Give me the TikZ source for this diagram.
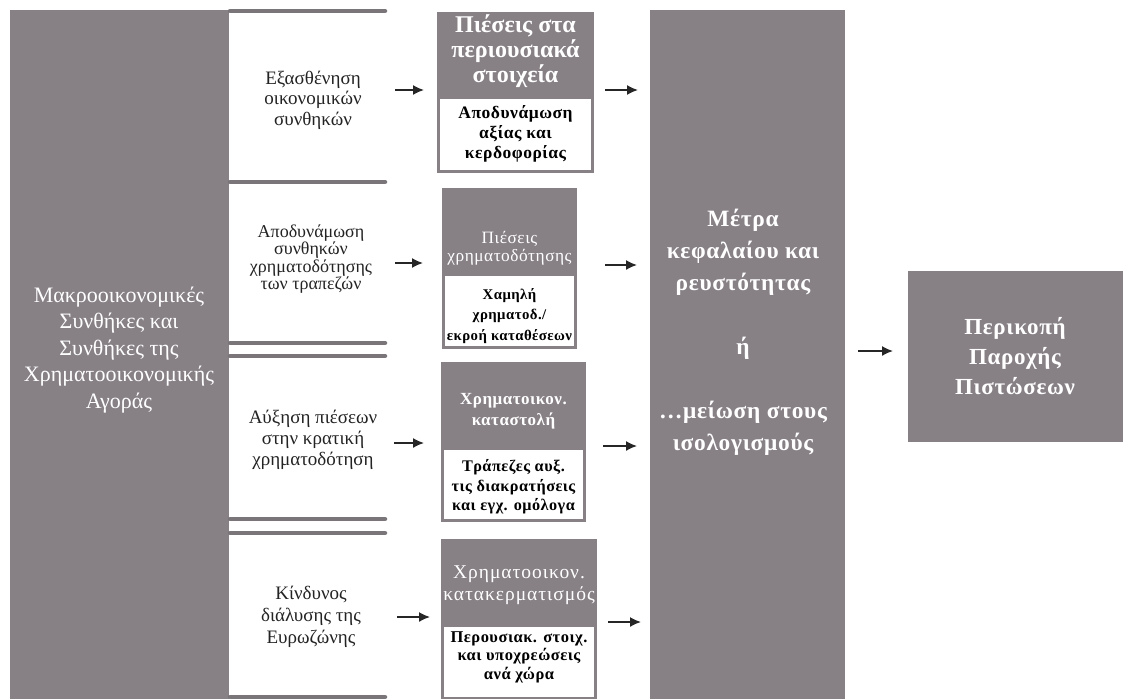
\documentclass[tikz,border=0pt]{standalone}
\usepackage{fontspec}
\setmainfont{Liberation Serif}
\newfontfamily\spaced[LetterSpace=3]{Liberation Serif}
\newfontfamily\spacedw[LetterSpace=5]{Liberation Serif}
\usetikzlibrary{arrows.meta}
\definecolor{boxgray}{RGB}{135,129,134}
\definecolor{linegray}{RGB}{122,117,121}
\definecolor{txtdark}{RGB}{35,35,35}
\begin{document}
\begin{tikzpicture}[x=1pt,y=-1pt,
  graybox/.style={fill=boxgray,draw=none,inner sep=0,outer sep=0,anchor=north west},
  whitebox/.style={fill=white,draw=boxgray,line width=3pt,inner sep=0,outer sep=0,anchor=north},
  lbl/.style={align=center,inner sep=0,text=txtdark},
  wlbl/.style={align=center,inner sep=0,text=white},
  blbl/.style={align=center,inner sep=0,text=black},
  arr/.style={-{Latex[length=11pt,width=10pt]},line width=1.6pt,draw=black!85},
  sepline/.style={draw=linegray,line width=4.5pt,line cap=round}]
\useasboundingbox (0,0) rectangle (1123,698);
% left big box
\node[graybox,minimum width=219,minimum height=690] (macro) at (10,10) {};
\node[wlbl,font=\fontsize{22}{26.5}\selectfont] (macrot) at (119,350)
  {Μακροοικονομικές\\Συνθήκες και\\Συνθήκες της\\Χρηματοοικονομικής\\Αγοράς};
% separator lines
\foreach \yy in {11,182,343,356,519,533,697}
  \draw[sepline] (230,\yy) -- (385,\yy);
% row labels
\node[lbl,font=\fontsize{19}{20.5}\selectfont] (r1) at (313,100) {Εξασθένηση\\οικονομικών\\συνθηκών};
\node[lbl,font=\fontsize{18}{17.5}\selectfont] (r2) at (311,259) {Αποδυνάμωση\\συνθηκών\\χρηματοδότησης\\των τραπεζών};
\node[lbl,font=\fontsize{19}{21}\selectfont] (r3) at (313,440) {Αύξηση πιέσεων\\στην κρατική\\χρηματοδότηση};
\node[lbl,font=\fontsize{19}{22}\selectfont] (r4) at (311,617) {Κίνδυνος\\διάλυσης της\\Ευρωζώνης};
% middle boxes
\node[graybox,minimum width=157,minimum height=86] (h1) at (437,12) {};
\node[whitebox,minimum width=154,minimum height=73] (w1) at (h1.south) {};
\node[wlbl,font=\bfseries\fontsize{24}{25}\selectfont] (h1t) at (515.5,51.5) {Πιέσεις στα\\περιουσιακά\\στοιχεία};
\node[blbl,font=\spaced\bfseries\fontsize{17.5}{20}\selectfont] (w1t) at (515.5,134) {Αποδυνάμωση\\αξίας και\\κερδοφορίας};

\node[graybox,minimum width=135,minimum height=86] (h2) at (442,188) {};
\node[whitebox,minimum width=132,minimum height=73] (w2) at (h2.south) {};
\node[wlbl,font=\spaced\fontsize{17.3}{18.5}\selectfont] (h2t) at (509.5,248) {Πιέσεις\\χρηματοδότησης};
\node[blbl,font=\spaced\bfseries\fontsize{14.8}{20.5}\selectfont] (w2t) at (509.5,316) {Χαμηλή\\χρηματοδ./\\εκροή καταθέσεων};

\node[graybox,minimum width=145,minimum height=86] (h3) at (441,362) {};
\node[whitebox,minimum width=142,minimum height=72] (w3) at (h3.south) {};
\node[wlbl,font=\spaced\bfseries\fontsize{17}{21}\selectfont] (h3t) at (513.5,411) {Χρηματοικον.\\καταστολή};
\node[blbl,font=\spaced\bfseries\fontsize{16.2}{19.5}\selectfont] (w3t) at (513.5,487) {Τράπεζες αυξ.\\τις διακρατήσεις\\και εγχ. ομόλογα};

\node[graybox,minimum width=156,minimum height=86] (h4) at (441,539) {};
\node[whitebox,minimum width=153,minimum height=73] (w4) at (h4.south) {};
\node[wlbl,font=\spacedw\fontsize{19.5}{22}\selectfont] (h4t) at (519,585) {Χρηματοοικον.\\κατακερματισμός};
\node[blbl,font=\spaced\bfseries\fontsize{16.5}{18.5}\selectfont] (w4t) at (519,657) {Περουσιακ. στοιχ.\\και υποχρεώσεις\\ανά χώρα};
% measures box
\node[graybox,minimum width=195,minimum height=690] (metra) at (650,10) {};
\node[wlbl,font=\spaced\bfseries\fontsize{23.4}{32}\selectfont] (metrat) at (743,332)
  {Μέτρα\\κεφαλαίου και\\ρευστότητας\\[32pt]ή\\[32pt]…μείωση στους\\ισολογισμούς};
% final box
\node[graybox,minimum width=215,minimum height=171] (final) at (908,271) {};
\node[wlbl,font=\spaced\bfseries\fontsize{23}{30}\selectfont] (finalt) at (1015,356) {Περικοπή\\Παροχής\\Πιστώσεων};
% arrow end points
\coordinate (a1s) at (395,90);  \coordinate (a1e) at (424,90);
\coordinate (a2s) at (395,263); \coordinate (a2e) at (423,263);
\coordinate (a3s) at (394,443); \coordinate (a3e) at (424,443);
\coordinate (a4s) at (397,617); \coordinate (a4e) at (430,617);
\coordinate (b1s) at (605,90);  \coordinate (b1e) at (638,90);
\coordinate (b2s) at (605,265); \coordinate (b2e) at (637,265);
\coordinate (b3s) at (603,446); \coordinate (b3e) at (637,446);
\coordinate (b4s) at (608,622); \coordinate (b4e) at (641,622);
\coordinate (cs) at (858,351);  \coordinate (ce) at (893,351);
\foreach \p in {a1,a2,a3,a4,b1,b2,b3,b4,c}
  \draw[arr] (\p s) -- (\p e);
\end{tikzpicture}
\end{document}
